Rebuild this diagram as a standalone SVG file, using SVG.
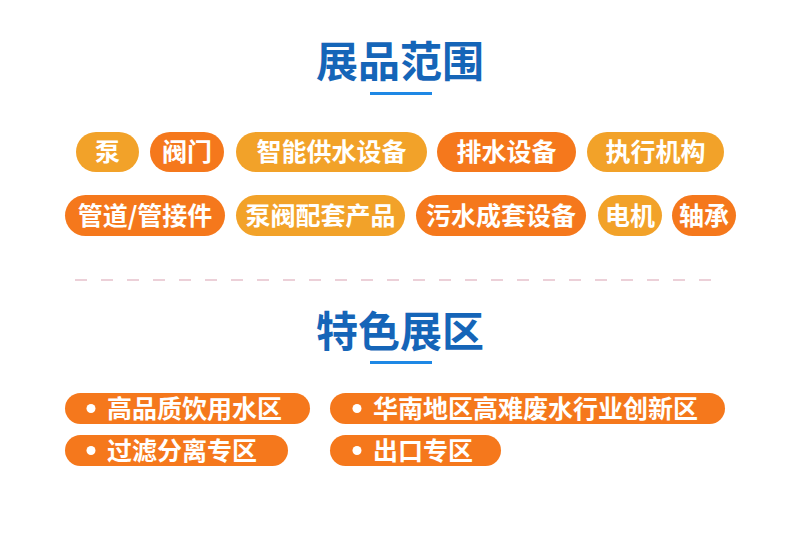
<svg xmlns="http://www.w3.org/2000/svg" width="800" height="546" viewBox="0 0 800 546">
<style>
.t{font-family:"Noto Sans CJK SC",sans-serif;font-weight:bold;fill:#1565b8;font-size:42px;text-anchor:middle}
.l{fill:#f2a229}.d{fill:#f5781c}
.p{font-family:"Noto Sans CJK SC",sans-serif;font-weight:bold;fill:#fff;font-size:25px;text-anchor:middle}
.q{font-family:"Noto Sans CJK SC",sans-serif;font-weight:bold;fill:#fff;font-size:25px}
</style>
<rect width="800" height="546" fill="#fff"/>
<g id="title1"><text class="t" x="400" y="77">展品范围</text><rect x="370" y="92" width="62" height="3" fill="#1e88e5"/></g>
<g id="n1"><rect class="l" x="76" y="132" width="63" height="40" rx="20"/><text class="p" x="107.5" y="161">泵</text></g>
<g id="n2"><rect class="d" x="150" y="132" width="74" height="40" rx="20"/><text class="p" x="187" y="161">阀门</text></g>
<g id="n3"><rect class="l" x="236" y="132" width="191" height="40" rx="20"/><text class="p" x="331.5" y="161">智能供水设备</text></g>
<g id="n4"><rect class="d" x="437" y="132" width="139" height="40" rx="20"/><text class="p" x="506.5" y="161">排水设备</text></g>
<g id="n5"><rect class="l" x="587" y="132" width="137" height="40" rx="20"/><text class="p" x="655.5" y="161">执行机构</text></g>
<g id="n6"><rect class="d" x="65" y="195" width="160" height="41" rx="20.5"/><text class="p" x="145" y="224.5">管道/管接件</text></g>
<g id="n7"><rect class="l" x="236" y="195" width="169" height="41" rx="20.5"/><text class="p" x="320.5" y="224.5">泵阀配套产品</text></g>
<g id="n8"><rect class="d" x="416" y="195" width="170" height="41" rx="20.5"/><text class="p" x="501" y="224.5">污水成套设备</text></g>
<g id="n9"><rect class="l" x="598" y="195" width="64" height="41" rx="20.5"/><text class="p" x="630" y="224.5">电机</text></g>
<g id="n10"><rect class="d" x="672" y="195" width="64" height="41" rx="20.5"/><text class="p" x="704" y="224.5">轴承</text></g>
<line x1="75" y1="280" x2="725" y2="280" stroke="#ecd0d8" stroke-width="2" stroke-dasharray="12 14"/>
<g id="title2"><text class="t" x="400" y="347">特色展区</text><rect x="370" y="361" width="62" height="3" fill="#1e88e5"/></g>
<g id="b1"><rect class="d" x="65" y="393" width="245" height="31" rx="15.5"/><circle cx="91" cy="408.5" r="4.5" fill="#fff"/><text class="q" x="107" y="417.5">高品质饮用水区</text></g>
<g id="b2"><rect class="d" x="330" y="393" width="395" height="31" rx="15.5"/><circle cx="357" cy="408.5" r="4.5" fill="#fff"/><text class="q" x="373" y="417.5">华南地区高难废水行业创新区</text></g>
<g id="b3"><rect class="d" x="65" y="435" width="223" height="31" rx="15.5"/><circle cx="91" cy="450.5" r="4.5" fill="#fff"/><text class="q" x="107" y="459.5">过滤分离专区</text></g>
<g id="b4"><rect class="d" x="330" y="435" width="171" height="31" rx="15.5"/><circle cx="357" cy="450.5" r="4.5" fill="#fff"/><text class="q" x="373" y="459.5">出口专区</text></g>
</svg>
